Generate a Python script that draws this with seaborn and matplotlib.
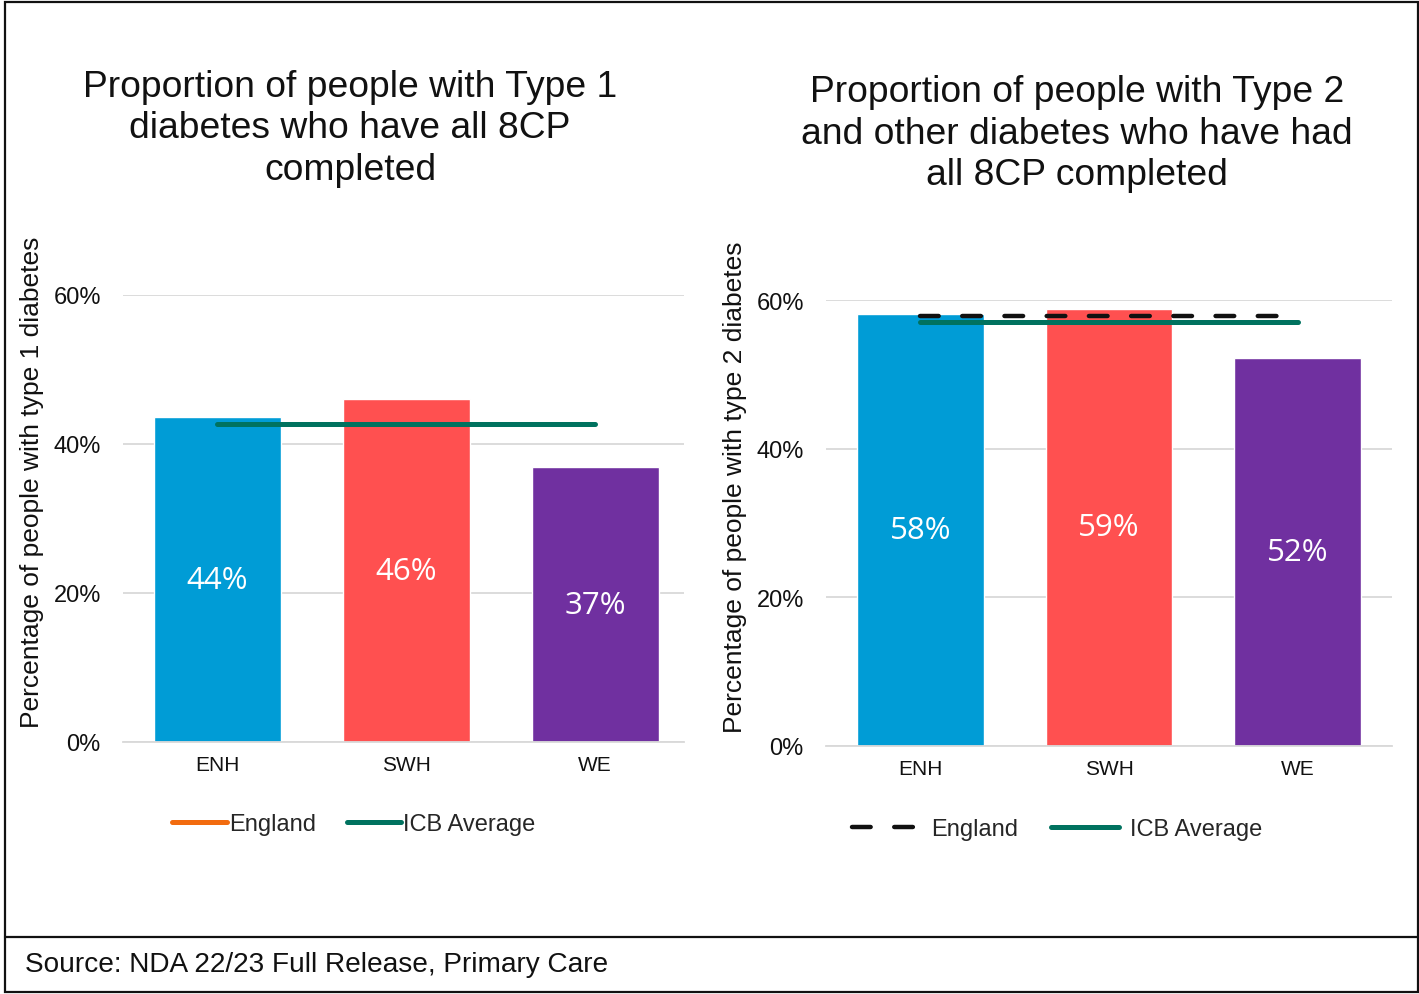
import matplotlib
matplotlib.use("Agg")
import matplotlib.pyplot as plt
from matplotlib.lines import Line2D
from matplotlib.patches import Rectangle
from matplotlib.ticker import PercentFormatter
import seaborn as sns
import pandas as pd

# ---- data -------------------------------------------------------------
areas = ["ENH", "SWH", "WE"]
type1_share = [0.436, 0.460, 0.369]
type1_icb_avg = 0.427
type2_share = [0.581, 0.588, 0.522]
type2_england = 0.578
type2_icb_avg = 0.570
y_ticks = [0.0, 0.2, 0.4, 0.6]

area_colors = {"ENH": "#009CD6", "SWH": "#FF5050", "WE": "#7030A0"}
icb_color = "#00725F"
england_orange = "#F26B0F"

sns.set_theme(style="white")
plt.rcParams["font.family"] = ["Liberation Sans", "DejaVu Sans"]

W, H = 1419, 995
fig = plt.figure(figsize=(W / 100, H / 100), dpi=100)


def fx(px):
    return px / W


def fy(py):
    return 1 - py / H


def draw_panel(ax, values, right_pad):
    df = pd.DataFrame({"area": areas, "share": values})
    sns.barplot(data=df, x="area", y="share", hue="area", palette=area_colors,
                order=areas, width=0.672, saturation=1, legend=False, ax=ax)
    ax.set_ylim(0, 0.6)
    ax.set_xlim(-0.5, len(areas) - 1 + right_pad)
    ax.set_yticks(y_ticks)
    ax.yaxis.set_major_formatter(PercentFormatter(1.0, decimals=0))
    ax.yaxis.grid(True, color="#D9D9D9", linewidth=1.3)
    ax.set_axisbelow(True)
    for s in ["top", "right", "left"]:
        ax.spines[s].set_visible(False)
    ax.spines["bottom"].set_color("#D9D9D9")
    ax.spines["bottom"].set_linewidth(1.3)
    ax.tick_params(axis="y", length=0, pad=16, labelsize=17, labelcolor="#111111")
    ax.tick_params(axis="x", length=0, pad=9.5, labelsize=15, labelcolor="#111111")
    ax.set_xlabel("")
    ax.set_ylabel("")
    for i, v in enumerate(values):
        ax.text(i, v / 2, f"{v:.0%}", ha="center", va="center", color="white",
                fontsize=22.5, family=["Open Sans", "DejaVu Sans"])


def hline(ax, value, **kw):
    ax.plot([0, len(areas) - 1], [value, value], **kw)


# ---- left panel: type 1 ----------------------------------------------
ax1 = fig.add_axes([fx(123), fy(743), fx(684 - 123), (743 - 296) / H])
draw_panel(ax1, type1_share, right_pad=0.47)
hline(ax1, type1_icb_avg, color=icb_color, lw=3.6, solid_capstyle="round")

left_handles = [
    Line2D([], [], color=england_orange, lw=3.6, solid_capstyle="round"),
    Line2D([], [], color=icb_color, lw=3.6, solid_capstyle="round"),
]
fig.legend(left_handles, ["England", "ICB Average"], loc="center",
           bbox_to_anchor=(fx(354), fy(825)), ncol=2, frameon=False,
           fontsize=17, handlelength=2.3, handletextpad=0.1,
           columnspacing=1.3)

# ---- right panel: type 2 and other -----------------------------------
ax2 = fig.add_axes([fx(826), fy(747), fx(1392 - 826), (747 - 301) / H])
draw_panel(ax2, type2_share, right_pad=0.5)
hline(ax2, type2_icb_avg, color=icb_color, lw=3.6, solid_capstyle="round")
hline(ax2, type2_england, color="#111111", lw=3.2, dashes=(4.2, 5.3),
      dash_capstyle="round")

right_handles = [
    Line2D([], [], color="#111111", lw=3.2, dashes=(4.2, 5.3),
           dash_capstyle="round"),
    Line2D([], [], color=icb_color, lw=3.6, solid_capstyle="round"),
]
fig.legend(right_handles, ["England", "ICB Average"], loc="center",
           bbox_to_anchor=(fx(1057), fy(830)), ncol=2, frameon=False,
           fontsize=17, handlelength=2.9, handletextpad=0.45,
           columnspacing=1.4)

# ---- titles and axis labels --------------------------------------------
fig.text(fx(350), fy(129),
         "Proportion of people with Type 1\ndiabetes who have all 8CP\ncompleted",
         ha="center", va="center", fontsize=26.8, linespacing=1.25,
         multialignment="center", color="#111111")
fig.text(fx(1077), fy(134),
         "Proportion of people with Type 2\nand other diabetes who have had\nall 8CP completed",
         ha="center", va="center", fontsize=26.8, linespacing=1.25,
         multialignment="center", color="#111111")

fig.text(fx(32), fy(482), "Percentage of people with type 1 diabetes",
         rotation=90, ha="center", va="center", fontsize=19, color="#111111")
fig.text(fx(735), fy(487), "Percentage of people with type 2 diabetes",
         rotation=90, ha="center", va="center", fontsize=19, color="#111111")

# ---- frame and source note ---------------------------------------------
fig.add_artist(Rectangle((fx(5), fy(993)), fx(1418 - 5), (993 - 3) / H,
                         transform=fig.transFigure, fill=False,
                         edgecolor="#111111", linewidth=1.6))
fig.add_artist(Line2D([fx(5), fx(1418)], [fy(938), fy(938)],
                      transform=fig.transFigure, color="#111111", linewidth=1.6))
fig.text(fx(25), fy(965), "Source: NDA 22/23 Full Release, Primary Care",
         ha="left", va="center", fontsize=20.2, color="#111111")

fig.savefig("out.png", dpi=100)
